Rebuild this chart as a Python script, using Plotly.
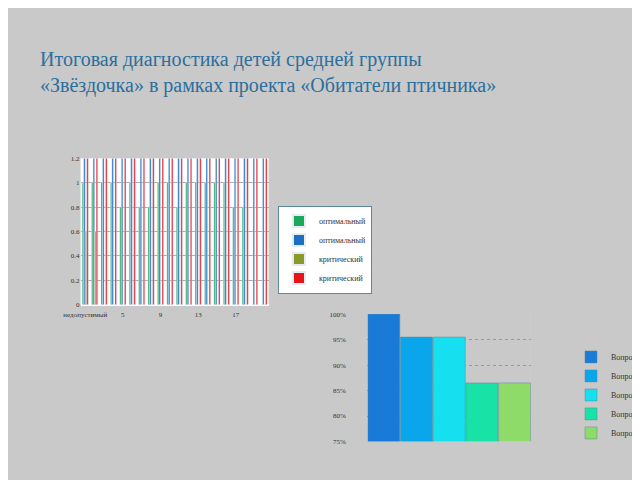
import plotly.graph_objects as go

categories = [str(i) for i in range(1, 21)]
cat_labels = ["недопустимый", "", "", "", "5", "", "", "", "9", "", "", "", "13", "", "", "", "17", "", "", ""]
optimal_green = [1, 1, 1, 1, 0.8, 1, 0.8, 0.8, 1, 1, 0.8, 1, 1, 1, 1, 1, 0.8, 0.8, 0, 0]
optimal_blue = [1.2] * 20
critical_olive = [0.6, 0.6] + [0] * 18
critical_red = [1.2] * 20

questions = ["Вопрос 1", "Вопрос 2", "Вопрос 3", "Вопрос 4", "Вопрос 5"]
answers = [1.00, 0.955, 0.955, 0.865, 0.865]
q_colors = ["#1a7ad8", "#0aa6ec", "#16dff0", "#18e2a6", "#8edb6a"]

fig = go.Figure()
left = [("оптимальный", optimal_green, "#1aa85a"), ("оптимальный", optimal_blue, "#1a6fc0"),
        ("критический", critical_olive, "#8a9a2a"), ("критический", critical_red, "#e8141a")]
for name, vals, col in left:
    fig.add_trace(go.Bar(x=categories, y=vals, name=name, marker_color=col,
                         xaxis="x", yaxis="y", legend="legend"))
for q, v, c in zip(questions, answers, q_colors):
    fig.add_trace(go.Bar(x=[q], y=[v], name=q, marker_color=c, marker_line=dict(color="#5a8a9a", width=0.5),
                         xaxis="x2", yaxis="y2", legend="legend2", width=0.98, offsetgroup="a"))

fig.update_layout(
    width=640, height=480, margin=dict(l=0, r=0, t=0, b=0),
    paper_bgcolor="#c9c9c9", plot_bgcolor="white", bargap=0.35, barmode="group",
    font=dict(family="Liberation Serif", size=7, color="#333"),
    title=dict(text="Итоговая диагностика детей средней группы<br>«Звёздочка» в рамках проекта «Обитатели птичника»",
               x=0.05, xanchor="left", y=0.88, yanchor="top",
               font=dict(family="Liberation Serif", size=20, color="#2b6f9e")),
    xaxis=dict(domain=[0.09, 0.395], tickvals=categories, ticktext=cat_labels, tickangle=0, showgrid=False,
               ticklabelstandoff=4),
    yaxis=dict(domain=[0.38, 0.69], range=[0, 1.2], dtick=0.2, gridcolor="#aaa", anchor="x"),
    xaxis2=dict(domain=[0.555, 0.82], anchor="y2", showticklabels=False, showgrid=False),
    yaxis2=dict(domain=[0.09, 0.36], range=[0.75, 1.0], dtick=0.05, tickformat=".0%",
                gridcolor="#999", griddash="dot", anchor="free", position=0.52),
    legend=dict(x=0.41, y=0.59, xanchor="left", yanchor="top", bgcolor="white",
                bordercolor="#5a8a9a", borderwidth=1, font=dict(size=8), itemwidth=30,
                tracegroupgap=0, itemsizing="constant"),
    legend2=dict(x=0.885, y=0.3, xanchor="left", yanchor="top", bgcolor="rgba(0,0,0,0)",
                 font=dict(size=8), itemwidth=30, tracegroupgap=0),
)
fig.update_layout(shapes=[dict(type="rect", xref="paper", yref="paper", x0=0.555, x1=0.82, y0=0.09, y1=0.36,
                               fillcolor="#c9c9c9", line_width=0, layer="below")])
fig.write_html("out.html")
